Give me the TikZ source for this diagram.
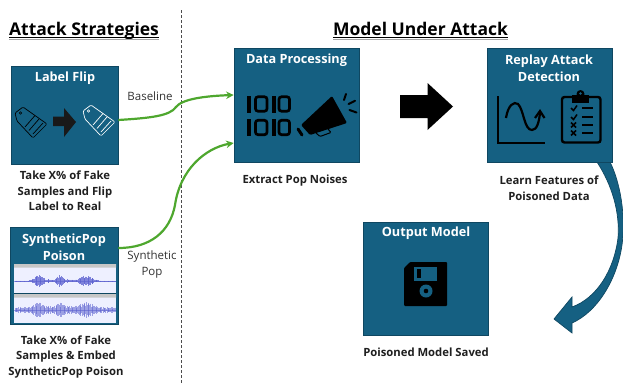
\documentclass[tikz,border=0pt]{standalone}
\usepackage{fontspec}
\setmainfont{Open Sans}
\usetikzlibrary{arrows.meta}
\definecolor{boxblue}{HTML}{156082}
\definecolor{boxedge}{HTML}{0F4761}
\definecolor{flowgreen}{HTML}{4EA72E}
\definecolor{wavebg}{HTML}{EEF0FF}
\definecolor{wave}{HTML}{5A5FCF}
\tikzset{
  x=1pt,y=-1pt,
  panel/.style={draw=boxedge,line width=.7pt,fill=boxblue,minimum width=#1,inner sep=0pt},
  boxtitle/.style={text=white,font=\bfseries\fontsize{12.7}{17}\selectfont,align=center,inner sep=0pt},
  caption/.style={text=black!88,font=\bfseries\fontsize{11.3}{15.6}\selectfont,align=center,inner sep=0pt},
  edgelabel/.style={text=black!80,font=\fontsize{11.5}{15.5}\selectfont,align=center,inner sep=0pt},
  heading/.style={text=black,font=\bfseries\fontsize{17.5}{20}\selectfont,inner sep=0pt,anchor=base},
  flow/.style={draw=flowgreen,line width=2.2pt,-{Stealth[length=7.5pt,width=7.5pt]}},
  rule/.style={line width=1.1pt,black},
  shade/.style={line width=1pt,black!35},
  icon/.style={line width=2.4pt,black},
}
\begin{document}
\begin{tikzpicture}
\useasboundingbox (0,0) rectangle (623,383);
% divider
\coordinate (dtop) at (181.5,10);
\coordinate (dbot) at (181.5,383);
\draw[black!70,line width=.7pt,densely dashed] (dtop) -- (dbot);
% headings
\node[heading] (h1) at (84,35) {Attack Strategies};
\node[heading] (h2) at (420.5,35) {Model Under Attack};
\foreach \n in {h1,h2}{
  \draw[shade] ([yshift=-4pt]\n.base west) -- ([yshift=-4pt]\n.base east);
  \draw[rule] ([yshift=-2.8pt]\n.base west) -- ([yshift=-2.8pt]\n.base east);
}
% curved arrow
\fill[boxblue,draw=boxedge,line width=.7pt,line join=miter]
  (610,162) .. controls (620,182) and (626,215) .. (622,245)
  .. controls (617,280) and (597,312) .. (572,323)
  -- (572,333) -- (554,319) -- (572,297) -- (572,307)
  .. controls (597,298) and (614,270) .. (618,238)
  .. controls (620,212) and (612,185) .. (597,162) -- cycle;
% boxes
\node[panel=107pt,minimum height=98pt] (lf) at (64.5,115) {};
\node[panel=108pt,minimum height=97pt] (sp) at (64,275.5) {};
\node[panel=125pt,minimum height=113.5pt] (dp) at (296.5,105.25) {};
\node[panel=125pt,minimum height=113.5pt] (ra) at (549.5,105.25) {};
\node[panel=125pt,minimum height=113pt] (om) at (425.5,278.5) {};
% box titles
\node[boxtitle] (t1) at (65,78) {Label Flip};
\node[boxtitle] (t2) at (64,247) {SyntheticPop\\Poison};
\node[boxtitle] (t3) at (296.5,60) {Data Processing};
\node[boxtitle] (t4) at (549,68.5) {Replay Attack\\Detection};
\node[boxtitle] (t5) at (426,233) {Output Model};
% captions
\node[caption] (c1) at (65,191) {Take X\% of Fake\\Samples and Flip\\Label to Real};
\node[caption] (c2) at (66,357) {Take X\% of Fake\\Samples \& Embed\\SyntheticPop Poison};
\node[caption] (c3) at (295,181) {Extract Pop Noises};
\node[caption] (c4) at (549,188) {Learn Features of\\Poisoned Data};
\node[caption] (c5) at (426,352) {Poisoned Model Saved};
% connectors
\draw[flow] (lf.east |- 0,120) .. controls (150,118) and (170,116) .. (176,107)
   .. controls (182,99) and (205,96) .. (dp.west |- 0,95);
\draw[flow] (sp.east |- 0,248) .. controls (150,248) and (170,232) .. (175,205)
   .. controls (180,170) and (205,148) .. (dp.west |- 0,143);
\node[edgelabel] (e1) at (150,96) {Baseline};
\node[edgelabel] (e2) at (152,264.5) {Synthetic\\Pop};
% big arrow
\fill[black] (400,95) -- (427.5,95) -- (427.5,83) -- (453,106.5) -- (427.5,130) -- (427.5,118) -- (400,118) -- cycle;
% tag icons
\foreach \dx/\dy/\c in {0/0/black,68/-2/white}{
  \begin{scope}[shift={(\dx,\dy)},draw=\c]
  \draw[line width=.7pt,line join=round,rounded corners=1.2pt]
    (15,113) -- (23,107) -- (47,124) -- (33,138) -- (17,121) -- cycle;
  \draw[line width=.55pt] (20.5,113) circle (1.3);
  \draw[line width=.7pt] (25,127) -- (35,115.5) (29,130.5) -- (39,119) (33,134) -- (43,123);
  \end{scope}
}
\fill[black!90] (53,116.7) -- (64,116.7) -- (64,108) -- (76,122) -- (64,137) -- (64,126) -- (53,126) -- cycle;
% waveform picture
\fill[wavebg] (14,264) rectangle (116,323);
\fill[black!22] (14,264) rectangle (116,267.5) (14,294) rectangle (116,297.5);
\draw[boxedge,line width=.8pt] (14,293.5) -- (116,293.5);
\draw[wave!60,line width=.3pt] (14,281) -- (116,281) (14,310) -- (116,310);
\pgfmathsetseed{7}
\foreach \x in {15,15.8,...,115.5}{
  \pgfmathsetmacro{\env}{6*exp(-((\x-38)/5.5)^2)+5.5*exp(-((\x-59.5)/4.5)^2)+6*exp(-((\x-86)/8)^2)+1.3*exp(-((\x-48)/5)^2)+1.3*exp(-((\x-69)/6)^2)}
  \pgfmathsetmacro{\a}{\env*(.5+.5*rnd)+.1}
  \draw[wave,line width=.35pt,opacity=.75] (\x,281-\a) -- (\x,281+\a);
  \pgfmathsetmacro{\b}{(2.6+\env*.85)*(.45+.55*abs(sin(\x*95)))}
  \draw[wave,line width=.3pt,opacity=.55] (\x,310-\b) -- (\x,310+\b);
}
% 1010 icon
\foreach \yy in {95.5,119}{
  \fill[black] (247,\yy) rectangle (251,\yy+17);
  \draw[black,line width=2.7pt,rounded corners=2.5pt] (255.5,\yy+1.3) rectangle (267,\yy+15.7);
  \fill[black] (272,\yy) rectangle (276,\yy+17);
  \draw[black,line width=2.7pt,rounded corners=2.5pt] (279,\yy+1.3) rectangle (289.5,\yy+15.7);
}
% megaphone
\fill[black,rounded corners=1.2pt] (332,96) -- (347,123) -- (310,135) -- (301,125) -- cycle;
\draw[black,line width=1pt,rounded corners=1pt] (316,133) -- (320,136.5) -- (331,132.5) -- (328,129);
\draw[black,line width=3pt,line cap=round] (298,129) -- (302,135);
\draw[black,line width=2pt,line cap=round] (344,100) -- (346,94) (348.5,104) -- (355,100.8) (349.5,110) -- (356.5,112.5);
% chart icon
\draw[icon,line cap=butt] (498,96) -- (498,142.8) -- (545,142.8);
\draw[icon,line width=2.2pt] (506,118) .. controls (508,105) and (514,101) .. (518,104)
   .. controls (524,110) and (524,130) .. (532,130) .. controls (537,130) and (539,122) .. (540,113);
\draw[icon,line width=2.2pt,line join=miter] (535,118) -- (540,111) -- (544.5,118);
% clipboard icon
\draw[icon,rounded corners=2.5pt] (562,97) rectangle (600.5,142.5);
\fill[black] (572,95) rectangle (589,103);
\fill[black] (580.5,94) circle (4);
\fill[boxblue] (580.5,93.5) circle (1.4);
\foreach \yy in {108,117,125,133}{
  \draw[black,line width=2pt] (582,\yy) -- (593,\yy);
}
\draw[black,line width=1.5pt] (571,108) -- (573.5,110.5) -- (577,105.5) (571,117) -- (573.5,119.5) -- (577,114.5);
\draw[black,line width=1.5pt] (571,122.5) -- (576,127.5) (576,122.5) -- (571,127.5) (571,130.5) -- (576,135.5) (576,130.5) -- (571,135.5);
% floppy icon
\fill[black,rounded corners=1pt] (404,268) -- (410,262) -- (447,262) -- (447,306) -- (404,306) -- cycle;
\fill[boxblue] (414,267) rectangle (437,281);
\fill[black] (417,269) rectangle (421,278);
\fill[boxblue] (426,291) circle (6.5);
\fill[black] (426,291) circle (2.3);
\end{tikzpicture}
\end{document}
